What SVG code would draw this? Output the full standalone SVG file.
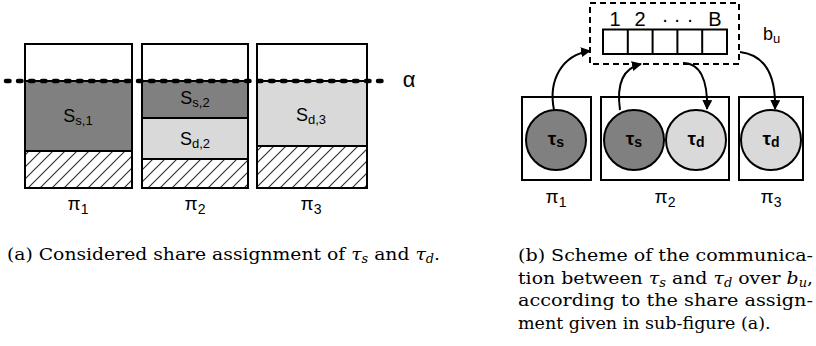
<svg xmlns="http://www.w3.org/2000/svg" width="816" height="346" viewBox="0 0 816 346">
<defs>
<pattern id="hatch" patternUnits="userSpaceOnUse" width="12" height="12">
<path d="M-3,3 L3,-3 M0,12 L12,0 M9,15 L15,9" stroke="#333" stroke-width="1.2"/>
</pattern>
<marker id="ah" viewBox="0 0 10 10" refX="9" refY="5" markerWidth="10" markerHeight="10" markerUnits="userSpaceOnUse" orient="auto">
<path d="M0,0 L10,5 L0,10 z" fill="#000"/>
</marker>
</defs>
<style>
.box{fill:#fff;stroke:#000;stroke-width:2}
.dark{fill:#808080;stroke:#000;stroke-width:2}
.light{fill:#d9d9d9;stroke:#000;stroke-width:2}
.hatch{fill:url(#hatch);stroke:#000;stroke-width:2}
.sans{font-family:"Liberation Sans",Arial,sans-serif;fill:#000}
.lbl{font-size:18px}
.tau{font-size:19px;font-weight:bold}
.cap{font-family:"DejaVu Serif","Liberation Serif",serif;font-size:17.5px;fill:#000}
.sub{font-style:italic;font-size:12px}
.conn{fill:none;stroke:#000;stroke-width:2;marker-end:url(#ah)}
</style>
<rect width="816" height="346" fill="#fff"/>

<g id="share-pi1">
<rect class="box" x="25" y="44" width="107" height="144"/>
<rect class="dark" x="25" y="81" width="107" height="70"/>
<rect class="hatch" x="25" y="151" width="107" height="37"/>
<text class="sans lbl" x="78" y="122" text-anchor="middle">S<tspan font-size="13" dy="3">s,1</tspan></text>
<text class="sans" x="78" y="210" font-size="19" text-anchor="middle">π<tspan font-size="14" dy="4">1</tspan></text>
</g>
<g id="share-pi2">
<rect class="box" x="142" y="44" width="106" height="144"/>
<rect class="dark" x="142" y="81" width="106" height="37"/>
<rect class="light" x="142" y="118" width="106" height="41"/>
<rect class="hatch" x="142" y="159" width="106" height="29"/>
<text class="sans lbl" x="195" y="104" text-anchor="middle">S<tspan font-size="13" dy="3">s,2</tspan></text>
<text class="sans lbl" x="195" y="145" text-anchor="middle">S<tspan font-size="13" dy="3">d,2</tspan></text>
<text class="sans" x="195" y="210" font-size="19" text-anchor="middle">π<tspan font-size="14" dy="4">2</tspan></text>
</g>
<g id="share-pi3">
<rect class="box" x="257" y="44" width="110" height="144"/>
<rect class="light" x="257" y="81" width="110" height="65"/>
<rect class="hatch" x="257" y="146" width="110" height="42"/>
<text class="sans lbl" x="311" y="121" text-anchor="middle">S<tspan font-size="13" dy="3">d,3</tspan></text>
<text class="sans" x="311" y="210" font-size="19" text-anchor="middle">π<tspan font-size="14" dy="4">3</tspan></text>
</g>
<g id="alpha-line">
<line x1="6" y1="81" x2="386" y2="81" stroke="#000" stroke-width="4.5" stroke-linecap="round" stroke-dasharray="3.5 8.5"/>
<text class="sans" x="409" y="87" font-size="22" text-anchor="middle">α</text>
</g>

<g id="buffer">
<rect x="590" y="3" width="149" height="61" fill="none" stroke="#000" stroke-width="2" stroke-dasharray="6 4"/>
<rect class="box" x="603" y="29.5" width="124" height="24.5"/>
<path d="M627.8,29.5 V54 M652.6,29.5 V54 M677.4,29.5 V54 M702.2,29.5 V54" stroke="#000" stroke-width="2"/>
<text class="sans" font-size="20" y="26" text-anchor="middle"><tspan x="615">1</tspan><tspan x="640">2</tspan><tspan x="665">·</tspan><tspan x="677">·</tspan><tspan x="690">·</tspan><tspan x="715">B</tspan></text>
<text class="sans" x="763" y="40" font-size="18">b<tspan font-size="13" dy="3">u</tspan></text>
</g>

<g id="proc-pi1">
<rect class="box" x="522" y="97" width="69" height="83"/>
<circle cx="556" cy="140" r="30" class="dark"/>
<text class="sans tau" x="556" y="145" text-anchor="middle">τ<tspan font-size="14" dy="2">s</tspan></text>
<text class="sans" x="556" y="203" font-size="19" text-anchor="middle">π<tspan font-size="14" dy="4">1</tspan></text>
</g>
<g id="proc-pi2">
<rect class="box" x="601" y="97" width="128" height="83"/>
<circle cx="634" cy="140" r="30" class="dark"/>
<text class="sans tau" x="634" y="145" text-anchor="middle">τ<tspan font-size="14" dy="2">s</tspan></text>
<circle cx="696" cy="140" r="30" class="light"/>
<text class="sans tau" x="696" y="145" text-anchor="middle">τ<tspan font-size="14" dy="2">d</tspan></text>
<text class="sans" x="665" y="203" font-size="19" text-anchor="middle">π<tspan font-size="14" dy="4">2</tspan></text>
</g>
<g id="proc-pi3">
<rect class="box" x="739" y="97" width="64" height="83"/>
<circle cx="771" cy="140" r="30" class="light"/>
<text class="sans tau" x="771" y="145" text-anchor="middle">τ<tspan font-size="14" dy="2">d</tspan></text>
<text class="sans" x="771" y="203" font-size="19" text-anchor="middle">π<tspan font-size="14" dy="4">3</tspan></text>
</g>

<g id="connectors">
<path class="conn" d="M554,110 C548,80 562,55 590,51"/>
<path class="conn" d="M620,110 C616,82 624,68 641,64"/>
<path class="conn" d="M683,63 C700,63 708,80 707,109"/>
<path class="conn" d="M740,52 C765,55 776,75 775,109"/>
</g>

<g id="captions">
<text class="cap" x="7" y="260" textLength="433" lengthAdjust="spacingAndGlyphs">(a)  Considered share assignment of <tspan font-style="italic">τ</tspan><tspan class="sub" dy="3">s</tspan><tspan dy="-3"> and </tspan><tspan font-style="italic">τ</tspan><tspan class="sub" dy="3">d</tspan><tspan dy="-3">.</tspan></text>
<text class="cap" x="518" y="261" textLength="295" lengthAdjust="spacingAndGlyphs">(b)  Scheme of the communica-</text>
<text class="cap" x="518" y="283.5" textLength="295" lengthAdjust="spacingAndGlyphs">tion between <tspan font-style="italic">τ</tspan><tspan class="sub" dy="3">s</tspan><tspan dy="-3"> and </tspan><tspan font-style="italic">τ</tspan><tspan class="sub" dy="3">d</tspan><tspan dy="-3"> over </tspan><tspan font-style="italic">b</tspan><tspan class="sub" dy="3">u</tspan><tspan dy="-3">,</tspan></text>
<text class="cap" x="518" y="306" textLength="295" lengthAdjust="spacingAndGlyphs">according  to  the  share  assign-</text>
<text class="cap" x="518" y="328.5" font-size="16.5">ment given in sub-figure (a).</text>
</g>
</svg>
